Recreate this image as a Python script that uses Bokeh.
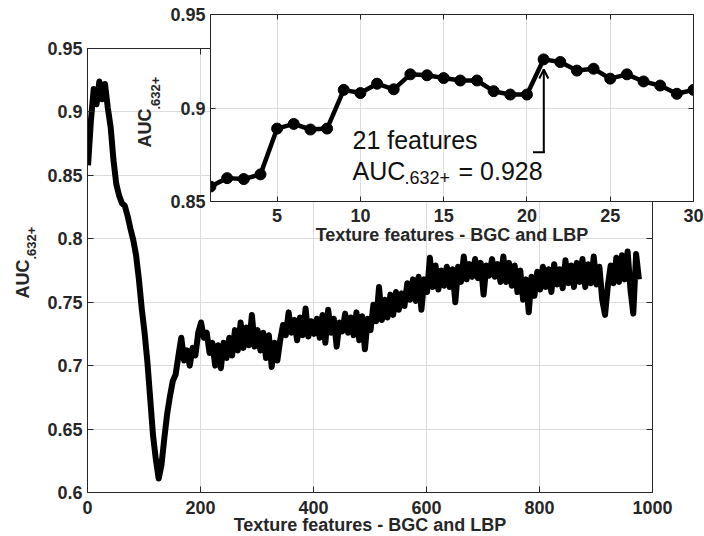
from bokeh.plotting import figure
from bokeh.models import Range1d, FixedTicker, LinearAxis, Label, Arrow, OpenHead
from bokeh.embed import file_html
from bokeh.resources import INLINE
import math

# ---------------- data ----------------
main_step = 5
auc_main = [
    0.858, 0.893, 0.918, 0.906, 0.924, 0.910, 0.922, 0.903, 0.888, 0.862,
    0.843, 0.834, 0.828, 0.826, 0.818, 0.808, 0.799, 0.787, 0.768, 0.745,
    0.726, 0.703, 0.674, 0.645, 0.626, 0.611, 0.622, 0.643, 0.662, 0.676,
    0.688, 0.693, 0.708, 0.722, 0.704, 0.712, 0.700, 0.714, 0.708, 0.726,
    0.734, 0.722, 0.726, 0.710, 0.718, 0.700, 0.716, 0.698, 0.718, 0.706,
    0.722, 0.708, 0.728, 0.712, 0.734, 0.714, 0.730, 0.716, 0.740, 0.715,
    0.728, 0.712, 0.726, 0.706, 0.724, 0.699, 0.718, 0.704, 0.720, 0.732,
    0.724, 0.742, 0.726, 0.736, 0.720, 0.738, 0.724, 0.745, 0.723, 0.735,
    0.725, 0.737, 0.722, 0.740, 0.718, 0.744, 0.726, 0.737, 0.715, 0.734,
    0.727, 0.741, 0.726, 0.738, 0.724, 0.742, 0.720, 0.739, 0.713, 0.737,
    0.728, 0.748, 0.735, 0.762, 0.736, 0.752, 0.738, 0.756, 0.740, 0.758,
    0.744, 0.757, 0.747, 0.765, 0.752, 0.768, 0.751, 0.770, 0.744, 0.768,
    0.758, 0.785, 0.762, 0.779, 0.760, 0.775, 0.763, 0.778, 0.762, 0.776,
    0.750, 0.778, 0.766, 0.786, 0.768, 0.780, 0.770, 0.784, 0.769, 0.781,
    0.756, 0.779, 0.771, 0.784, 0.770, 0.780, 0.766, 0.786, 0.766, 0.781,
    0.763, 0.779, 0.758, 0.775, 0.752, 0.768, 0.742, 0.770, 0.755, 0.774,
    0.760, 0.778, 0.762, 0.776, 0.758, 0.780, 0.764, 0.776, 0.761, 0.783,
    0.765, 0.779, 0.762, 0.781, 0.766, 0.784, 0.762, 0.780, 0.765, 0.786,
    0.764, 0.778, 0.752, 0.740, 0.763, 0.779, 0.765, 0.785, 0.766, 0.787,
    0.768, 0.790, 0.760, 0.741, 0.788, 0.768,
]
features_main = [1 + main_step * i for i in range(len(auc_main))]

features_inset = list(range(1, 31))
auc_inset = [
    0.858, 0.8625, 0.862, 0.8645, 0.889, 0.8915, 0.8885, 0.889, 0.9097, 0.908,
    0.913, 0.910, 0.918, 0.9175, 0.916, 0.9147, 0.9147, 0.909, 0.9072, 0.9072,
    0.926, 0.9246, 0.920, 0.921, 0.9157, 0.918, 0.9142, 0.912, 0.9076, 0.9097,
]

main_xticks = [0, 200, 400, 600, 800, 1000]
main_xlabels = ["0", "200", "400", "600", "800", "1000"]
main_yticks = [0.6, 0.65, 0.7, 0.75, 0.8, 0.85, 0.9, 0.95]
main_ylabels = ["0.6", "0.65", "0.7", "0.75", "0.8", "0.85", "0.9", "0.95"]
inset_xticks = [5, 10, 15, 20, 25, 30]
inset_xlabels = ["5", "10", "15", "20", "25", "30"]
inset_yticks = [0.85, 0.9, 0.95]
inset_ylabels = ["0.85", "0.9", "0.95"]

xlabel_text = "Texture features - BGC and LBP"
ylabel_main = "AUC"
ylabel_sub = ".632+"
best_n = 21
best_auc = "0.928"

FONT = "Liberation Sans"
AX = "#262626"
GRID = "#dcdcdc"

# -------------- geometry (page pixels) --------------
W, H = 704, 536
M_L, M_R, M_T, M_B = 87, 652, 48, 492
I_L, I_R, I_T, I_B = 210, 693, 14, 201
I_BL, I_BR, I_BB = 82, 11, 45
SHIFT = 7.5  # baseline correction of the label renderer


def ix(px):
    return 1 + (px - I_L) / (I_R - I_L) * 29


def iy(py):
    return 0.85 + (I_B - py) / (I_B - I_T) * 0.1


def place(fig, left, top):
    fig.styles = {"position": "absolute", "left": f"{left}px", "top": f"{top}px"}


def style_axes(fig, xt, xl, yt, yl, tick_len, xstand, ystand):
    fig.xaxis.ticker = FixedTicker(ticks=xt)
    fig.xaxis.major_label_overrides = {t: s for t, s in zip(xt, xl)}
    fig.yaxis.ticker = FixedTicker(ticks=yt)
    fig.yaxis.major_label_overrides = {t: s for t, s in zip(yt, yl)}
    for ax, st in ((fig.xaxis[0], xstand), (fig.yaxis[0], ystand)):
        ax.major_tick_in = tick_len
        ax.major_tick_out = 0
        ax.minor_tick_line_color = None
        ax.axis_line_color = AX
        ax.major_tick_line_color = AX
        ax.major_label_text_font = FONT
        ax.major_label_text_font_style = "bold"
        ax.major_label_text_font_size = "18px"
        ax.major_label_text_color = AX
        ax.major_label_standoff = st
    fig.grid.grid_line_color = GRID
    fig.grid.grid_line_width = 1
    fig.outline_line_color = AX
    for loc, ticks in (("right", yt), ("above", xt)):
        a = LinearAxis(ticker=FixedTicker(ticks=ticks), major_tick_in=tick_len, major_tick_out=0,
                       minor_tick_line_color=None, axis_line_color=AX, major_tick_line_color=AX,
                       major_label_overrides={t: "" for t in ticks}, major_label_standoff=0)
        fig.add_layout(a, loc)


# -------------- main figure --------------
p = figure(frame_width=M_R - M_L, frame_height=M_B - M_T, title=None,
           min_border_left=M_L, min_border_right=W - 4 - M_R,
           min_border_top=M_T, min_border_bottom=H - M_B,
           x_range=Range1d(0, 1000), y_range=Range1d(0.6, 0.95),
           output_backend="svg", toolbar_location=None, tools="")
p.background_fill_color = "white"
p.border_fill_color = "white"
style_axes(p, main_xticks, main_xlabels, main_yticks, main_ylabels, 6, 8, 5)
p.line(features_main, auc_main, line_width=6, color="black", line_join="round")
place(p, 0, 0)

# -------------- inset figure --------------
q = figure(frame_width=I_R - I_L, frame_height=I_B - I_T, title=None,
           min_border_left=I_BL, min_border_right=I_BR,
           min_border_top=I_T, min_border_bottom=I_BB,
           x_range=Range1d(1, 30), y_range=Range1d(0.85, 0.95),
           output_backend="svg", toolbar_location=None, tools="")
q.background_fill_color = "white"
q.border_fill_color = None
style_axes(q, inset_xticks, inset_xlabels, inset_yticks, inset_ylabels, 5, 7, 5)
q.line(features_inset, auc_inset, line_width=4.5, color="black")
q.scatter(features_inset, auc_inset, size=11, color="black")

q.add_layout(Arrow(end=None, x_start=ix(532.5), y_start=iy(151.7), x_end=ix(544.3), y_end=iy(151.7),
                   line_width=2, line_color="black"))
q.add_layout(Arrow(end=OpenHead(size=9, line_width=2, line_color="black"),
                   x_start=ix(543.3), y_start=iy(152.5), x_end=ix(543.3), y_end=iy(69),
                   line_width=2, line_color="black"))
place(q, I_L - I_BL, 0)

# -------------- text overlay (page pixel coordinates) --------------
t = figure(frame_width=W, frame_height=H, title=None,
           min_border_left=0, min_border_right=0, min_border_top=0, min_border_bottom=0,
           x_range=Range1d(0, W), y_range=Range1d(H, 0),
           x_axis_location=None, y_axis_location=None,
           output_backend="svg", toolbar_location=None, tools="")
t.grid.visible = False
t.outline_line_color = None
t.background_fill_color = None
t.border_fill_color = None
place(t, 0, 0)


def add_label(x, y, text, size, bold=True, rotated=False, align="left", color=AX):
    if rotated:
        x, angle = x - SHIFT, math.pi / 2
    else:
        y, angle = y - SHIFT, 0.0
    t.add_layout(Label(x=x, y=y, text=text, text_font=FONT, text_font_size=size,
                       text_font_style="bold" if bold else "normal", text_color=color,
                       angle=angle, text_align=align, text_baseline="alphabetic"))


# main axis labels
add_label((M_L + M_R) / 2, 532, xlabel_text, "18px", align="center")
add_label(30, 298, ylabel_main, "18px", rotated=True)
add_label(38, 259, ylabel_sub, "13px", rotated=True)
# inset axis labels
add_label((I_L + I_R) / 2, 241.5, xlabel_text, "18px", align="center")
add_label(152, 147, ylabel_main, "18px", rotated=True)
add_label(162, 109, ylabel_sub, "13px", rotated=True)
# annotation
add_label(352, 147.3, f"{best_n} features", "25px", bold=False, color="#111111")
add_label(352, 178.3, "AUC", "25px", bold=False, color="#111111")
add_label(404, 184, ylabel_sub, "18px", bold=False, color="#111111")
add_label(458, 178.3, f"= {best_auc}", "25px", bold=False, color="#111111")

open("out.html", "w").write(file_html([p, q, t], INLINE))
